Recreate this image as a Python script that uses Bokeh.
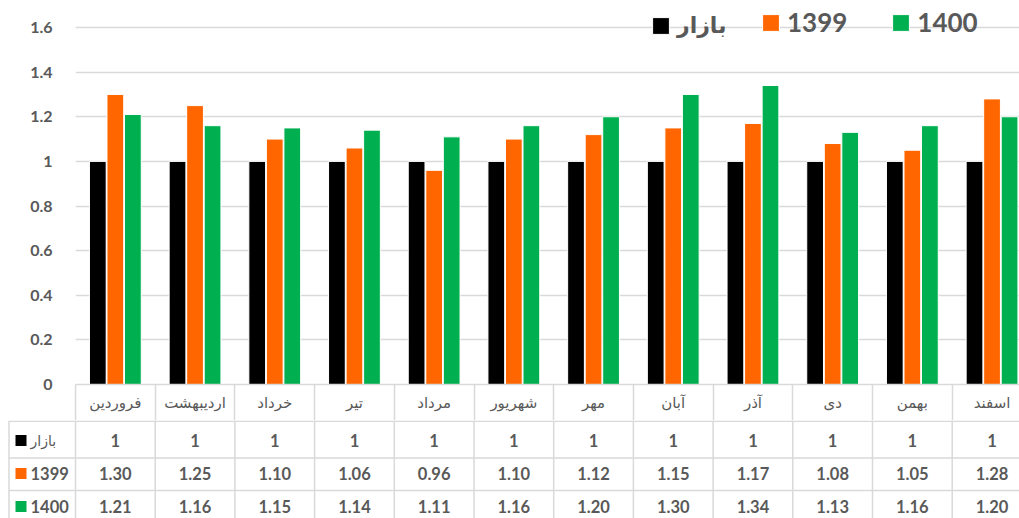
from bokeh.plotting import figure
from bokeh.models import Range1d, FixedTicker, ColumnDataSource, Legend, LegendItem
from bokeh.layouts import column
from bokeh.transform import dodge
from bokeh.core.properties import value
from bokeh.embed import file_html
from bokeh.resources import INLINE

# ---------------- data ----------------
months = ["فروردین", "اردیبهشت", "خرداد", "تیر", "مرداد", "شهریور",
          "مهر", "آبان", "آذر", "دی", "بهمن", "اسفند"]
series_names = ["بازار", "1399", "1400"]
bazar = [1, 1, 1, 1, 1, 1, 1, 1, 1, 1, 1, 1]
s1399 = [1.30, 1.25, 1.10, 1.06, 0.96, 1.10, 1.12, 1.15, 1.17, 1.08, 1.05, 1.28]
s1400 = [1.21, 1.16, 1.15, 1.14, 1.11, 1.16, 1.20, 1.30, 1.34, 1.13, 1.16, 1.20]
y_ticks = [0, 0.2, 0.4, 0.6, 0.8, 1, 1.2, 1.4, 1.6]
y_tick_labels = ["0", "0.2", "0.4", "0.6", "0.8", "1", "1.2", "1.4", "1.6"]
colors = ["#000000", "#FF6600", "#00B050"]

# ---------------- layout constants ----------------
W = 1019
CAT = 79.7            # px per category
LEFT = 75             # px left of the plot frame
FRAME_W = W - LEFT
X_END = FRAME_W / CAT
X_START_T = -LEFT / CAT
GRID = "#D9D9D9"
TXT = "#595959"
HEAD = 36
FRAME_H = 384
H1 = FRAME_H + HEAD
Y_TOP = 1.6 * FRAME_H / 357.0
H2 = 98

n = len(months)
xc = [i + 0.5 for i in range(n)]
bounds = list(range(n + 1))

src = ColumnDataSource(dict(x=xc, m=months, bazar=bazar, s1399=s1399, s1400=s1400))

p = figure(width=W, height=H1, x_range=Range1d(0, X_END), y_range=Range1d(0, Y_TOP),
           output_backend="svg", toolbar_location=None, frame_align=False,
           min_border_left=LEFT, min_border_right=0, min_border_top=0, min_border_bottom=HEAD)
p.outline_line_color = None
p.background_fill_color = "white"
p.border_fill_color = "white"

offs = [-0.22, 0.0, 0.22]
cols = ["bazar", "s1399", "s1400"]
rends = []
for c, off, col in zip(cols, offs, colors):
    r = p.vbar(x=dodge("x", off), top=c, width=0.21, source=src,
               fill_color=col, line_color="white", line_width=1)
    rends.append(r)

leg_common = dict(orientation="horizontal", glyph_width=21, glyph_height=21,
                  label_standoff=6, padding=0, margin=0, border_line_color=None,
                  background_fill_alpha=0, label_text_color=TXT)
legend_a = Legend(items=[LegendItem(label=series_names[0], renderers=[rends[0]])],
                  location=(575, 346), label_text_font="DejaVu Sans",
                  label_text_font_size="22px", label_text_font_style="bold", **leg_common)
legend_b = Legend(items=[LegendItem(label=nm, renderers=[r]) for nm, r in zip(series_names[1:], rends[1:])],
                  location=(685, 346), label_text_font="Lato", spacing=43,
                  label_text_font_size="26px", label_text_font_style="bold", **leg_common)
p.add_layout(legend_a)
p.add_layout(legend_b)

# y axis
p.yaxis.ticker = FixedTicker(ticks=y_ticks)
p.yaxis.major_label_overrides = {t: l for t, l in zip(y_ticks, y_tick_labels)}
p.yaxis.axis_line_color = None
p.yaxis.major_tick_line_color = None
p.yaxis.minor_tick_line_color = None
p.yaxis.major_label_standoff = 17
p.yaxis.major_label_text_font = "Lato"
p.yaxis.major_label_text_font_size = "16px"
p.yaxis.major_label_text_font_style = "bold"
p.yaxis.major_label_text_color = TXT

p.ygrid.ticker = FixedTicker(ticks=y_ticks)
p.ygrid.grid_line_color = GRID
p.ygrid.grid_line_width = 1.5
p.xgrid.grid_line_color = None

# x axis = header row of the table
p.xaxis.ticker = FixedTicker(ticks=xc, minor_ticks=bounds)
p.xaxis.major_label_overrides = {x: m for x, m in zip(xc, months)}
p.xaxis.axis_line_color = GRID
p.xaxis.axis_line_width = 1.5
p.xaxis.major_tick_line_color = None
p.xaxis.minor_tick_line_color = GRID
p.xaxis.minor_tick_line_width = 1.5
p.xaxis.minor_tick_out = HEAD
p.xaxis.minor_tick_in = 0
p.xaxis.major_tick_out = 0
p.xaxis.major_tick_in = 0
p.xaxis.major_label_standoff = 9 - HEAD
p.xaxis.major_label_text_font = "DejaVu Sans"
p.xaxis.major_label_text_font_size = "15px"
p.xaxis.major_label_text_color = TXT

# ---------------- table rows ----------------
t = figure(width=W, height=H2, x_range=Range1d(X_START_T, X_END), y_range=Range1d(H2, 0),
           output_backend="svg", toolbar_location=None, min_border=0, frame_align=False,
           x_axis_location=None, y_axis_location=None)
t.outline_line_color = None
t.grid.visible = False

h_lines = [0.75, 37.5, 70]
left_edge = X_START_T + 8.5 / CAT
t.segment(x0=[left_edge] * len(h_lines), x1=[n] * len(h_lines), y0=h_lines, y1=h_lines,
          line_color=GRID, line_width=1.5)
v_x = [left_edge] + bounds
t.segment(x0=v_x, x1=v_x, y0=[0] * len(v_x), y1=[H2] * len(v_x), line_color=GRID, line_width=1.5)

row_c = [20, 53, 86]
fmt_rows = [[f"{v:g}" for v in bazar], [f"{v:.2f}" for v in s1399], [f"{v:.2f}" for v in s1400]]
for yc, txts in zip(row_c, fmt_rows):
    t.text(x=xc, y=[yc] * n, text=txts, text_align="center", text_baseline="middle",
           text_font=value("Lato"), text_font_size="16.5px", text_font_style="bold", text_color=TXT)

sq_x = (20.5 - LEFT) / CAT
lab_x = (30 - LEFT) / CAT
t.scatter(x=[sq_x] * 3, y=row_c, marker="square", size=11, fill_color=colors, line_color=None)
t.text(x=[lab_x], y=row_c[:1], text=series_names[:1], text_align="left", text_baseline="middle",
       text_font=value("DejaVu Sans"), text_font_size="14px", text_color=TXT)
t.text(x=[lab_x] * 2, y=row_c[1:], text=series_names[1:], text_align="left", text_baseline="middle",
       text_font=value("Lato"), text_font_size="16.5px", text_font_style="bold", text_color=TXT)

layout = column(p, t, spacing=0)
open("out.html", "w").write(file_html(layout, INLINE))
